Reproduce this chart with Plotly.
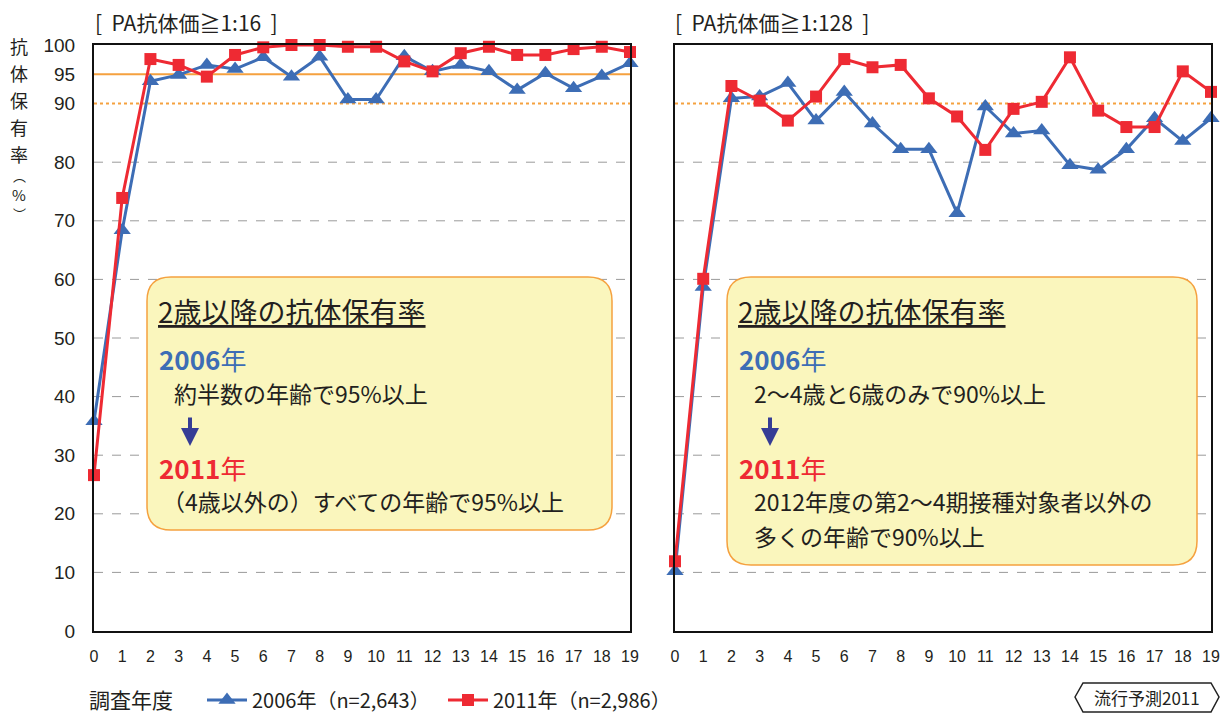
import plotly.graph_objects as go
from plotly.subplots import make_subplots

# page has an 8px body margin, so the figure is sized to fill the rest
OFF = 8
W, H = 1229 - OFF, 715 - OFF

ages = list(range(20))
age_labels = [str(a) for a in ages]

# PA抗体価≧1:16
hi16_2006 = [35.8, 68.4, 93.8, 94.9, 96.6, 95.9, 97.9, 94.6, 98.0, 90.7,
             90.7, 98.1, 95.5, 96.6, 95.5, 92.3, 95.2, 92.6, 94.7, 96.9]
hi16_2011 = [26.6, 73.9, 97.6, 96.6, 94.6, 98.3, 99.6, 100.0, 100.0, 99.7,
             99.7, 97.2, 95.5, 98.6, 99.7, 98.3, 98.3, 99.3, 99.7, 98.8]
# PA抗体価≧1:128
hi128_2006 = [10.2, 58.7, 90.9, 91.2, 93.5, 87.1, 92.0, 86.6, 82.2, 82.2,
              71.3, 89.5, 84.9, 85.4, 79.5, 78.7, 82.2, 87.5, 83.6, 87.5]
hi128_2011 = [11.9, 60.1, 93.0, 90.5, 87.1, 91.2, 97.6, 96.2, 96.6, 90.9,
              87.8, 82.1, 89.1, 90.3, 97.9, 88.8, 86.0, 86.0, 95.5, 92.0]

y_ticks = [0, 10, 20, 30, 40, 50, 60, 70, 80, 90, 95, 100]
grid_vals = [10, 20, 30, 40, 50, 60, 70, 80]

series_names = ["2006年（n=2,643）", "2011年（n=2,986）"]
panel_titles = ["[  PA抗体価≧1:16  ]", "[  PA抗体価≧1:128  ]"]

BLUE = "#3D6DB5"
RED = "#EE2A33"
ORANGE = "#F5A13F"
FONT = "Noto Sans CJK JP"
NUMFONT = "Liberation Sans, Noto Sans CJK JP"
TXT = "#231F20"


def px(x):
    return (x - OFF) / W


def py(y):
    return 1 - (y - OFF) / H


def rounded_rect(x0, y0, x1, y1, r):
    # screen pixel coords -> paper path
    pts = [
        f"M {px(x0 + r)} {py(y0)}",
        f"L {px(x1 - r)} {py(y0)}",
        f"Q {px(x1)} {py(y0)} {px(x1)} {py(y0 + r)}",
        f"L {px(x1)} {py(y1 - r)}",
        f"Q {px(x1)} {py(y1)} {px(x1 - r)} {py(y1)}",
        f"L {px(x0 + r)} {py(y1)}",
        f"Q {px(x0)} {py(y1)} {px(x0)} {py(y1 - r)}",
        f"L {px(x0)} {py(y0 + r)}",
        f"Q {px(x0)} {py(y0)} {px(x0 + r)} {py(y0)} Z",
    ]
    return " ".join(pts)


fig = make_subplots(rows=1, cols=2)

panels = [(hi16_2006, hi16_2011), (hi128_2006, hi128_2011)]
for i, (s06, s11) in enumerate(panels):
    col = i + 1
    fig.add_trace(go.Scatter(
        x=ages, y=s06, mode="lines+markers", name=series_names[0],
        line=dict(color=BLUE, width=3),
        marker=dict(symbol="triangle-up", size=15, color=BLUE),
        cliponaxis=False, showlegend=(i == 0)), row=1, col=col)
    fig.add_trace(go.Scatter(
        x=ages, y=s11, mode="lines+markers", name=series_names[1],
        line=dict(color=RED, width=3),
        marker=dict(symbol="square", size=12, color=RED),
        cliponaxis=False, showlegend=(i == 0)), row=1, col=col)

ydom = [py(631), py(45)]
fig.update_layout(
    xaxis=dict(domain=[px(94), px(630)]),
    xaxis2=dict(domain=[px(675), px(1211)]),
    yaxis=dict(domain=ydom),
    yaxis2=dict(domain=ydom),
)
fig.update_xaxes(range=[0, 19], tickvals=ages, ticktext=age_labels,
                 showgrid=False, zeroline=False, showline=True, linewidth=2,
                 linecolor="#111", mirror=True, ticks="", automargin=False,
                 ticklabelstandoff=10,
                 tickfont=dict(size=16, color=TXT, family=NUMFONT))
fig.update_yaxes(range=[0, 100], tickvals=y_ticks, showgrid=False,
                 zeroline=False, showline=True, linewidth=2, linecolor="#111",
                 mirror=True, ticks="", ticklabelstandoff=13, automargin=False,
                 tickfont=dict(size=19, color=TXT, family=NUMFONT))
fig.update_yaxes(showticklabels=False, row=1, col=2)

shapes = []
for xr, yr in [("x", "y"), ("x2", "y2")]:
    for g in grid_vals:
        shapes.append(dict(type="line", xref=f"{xr} domain", yref=yr,
                           x0=0, x1=1, y0=g, y1=g,
                           line=dict(color="#9A9A9A", width=1, dash="dash"),
                           layer="below"))
    shapes.append(dict(type="line", xref=f"{xr} domain", yref=yr,
                       x0=0, x1=1, y0=90, y1=90,
                       line=dict(color=ORANGE, width=2, dash="dot"),
                       layer="below"))
shapes.append(dict(type="line", xref="x domain", yref="y", x0=0, x1=1,
                   y0=95, y1=95, line=dict(color=ORANGE, width=2),
                   layer="below"))

# callout boxes
shapes.append(dict(type="path", xref="paper", yref="paper",
                   path=rounded_rect(147, 277, 612, 530, 24),
                   fillcolor="#FAF6BD", line=dict(color=ORANGE, width=1.5)))
shapes.append(dict(type="path", xref="paper", yref="paper",
                   path=rounded_rect(727, 277, 1197, 565, 24),
                   fillcolor="#FAF6BD", line=dict(color=ORANGE, width=1.5)))
# badge
badge = [(1075, 697), (1083, 683), (1211, 683), (1219, 697), (1211, 712), (1083, 712)]
path = "M " + " L ".join(f"{px(a)} {py(b)}" for a, b in badge) + " Z"
shapes.append(dict(type="path", xref="paper", yref="paper", path=path,
                   fillcolor="white", line=dict(color="#222", width=1.5)))

ann = []


def text(x, y, s, size, color=TXT, xanchor="left", family=FONT):
    ann.append(dict(x=px(x), y=py(y), xref="paper", yref="paper", text=s,
                    showarrow=False, xanchor=xanchor, yanchor="middle",
                    font=dict(size=size, color=color, family=family)))


text(93, 22, panel_titles[0], 21)
text(673, 22, panel_titles[1], 21)

# vertical y-axis title
for k, ch in enumerate(["抗", "体", "保", "有", "率"]):
    text(19, 46 + k * 27, ch, 18, xanchor="center")
text(19, 175, "︵", 13, xanchor="center")
text(19, 194, "%", 15, xanchor="center")
text(19, 213, "︶", 13, xanchor="center")

boxes = [
    (157, ["約半数の年齢で95%以上"], ["（4歳以外の）すべての年齢で95%以上"], 172, 160),
    (737, ["2～4歳と6歳のみで90%以上"], ["2012年度の第2～4期接種対象者以外の",
                                     "多くの年齢で90%以上"], 752, 752),
]
for bx, l06, l11, x06, x11 in boxes:
    text(bx - 1, 311, "<u>2歳以降の抗体保有率</u>", 28)
    text(bx, 358, f"<b>2006</b>年", 26, color=BLUE)
    for j, s in enumerate(l06):
        text(x06, 393 + j * 35, s, 23)
    ann.append(dict(x=px(bx + 33), y=py(446), xref="paper", yref="paper",
                    ax=0, ay=-30, axref="pixel", ayref="pixel",
                    text="", showarrow=True, arrowhead=2, arrowsize=0.9,
                    arrowwidth=4, arrowcolor="#353D95"))
    text(bx, 467, f"<b>2011</b>年", 26, color=RED)
    for j, s in enumerate(l11):
        text(x11, 501 + j * 35, s, 23)

text(1147, 697, "流行予測2011", 17, xanchor="center")

fig.update_layout(
    width=W, height=H,
    margin=dict(l=0, r=0, t=0, b=0, pad=0, autoexpand=False),
    paper_bgcolor="white", plot_bgcolor="white",
    shapes=shapes, annotations=ann,
    font=dict(family=FONT, color=TXT),
    legend=dict(orientation="h", x=px(87), y=py(700), xanchor="left",
                yanchor="middle", title=dict(text="調査年度　", side="left",
                                             font=dict(size=21)),
                font=dict(size=20, color=TXT), itemwidth=40, entrywidth=186,
                bgcolor="rgba(0,0,0,0)"),
)

fig.write_html("out.html")
